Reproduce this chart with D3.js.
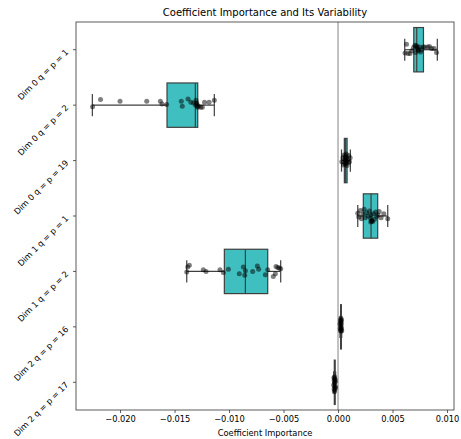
<!DOCTYPE html>
<html>
<head>
<meta charset="utf-8">
<script src="https://cdn.jsdelivr.net/npm/d3@7"></script>
<style>
  body { margin: 0; background: #fff; }
  text { font-family: "DejaVu Sans", sans-serif; fill: #000; }
</style>
</head>
<body>
<svg id="chart" width="461" height="439"></svg>
<script>
// ---- data ----
const categories = [
  "Dim 0 q = p = 1", "Dim 0 q = p = 2", "Dim 0 q = p = 19",
  "Dim 1 q = p = 1", "Dim 1 q = p = 2", "Dim 2 q = p = 16", "Dim 2 q = p = 17"
];
const q1s      = [0.00695, -0.01569, 0.00058, 0.00232, -0.01043, 0.00024, -0.00034];
const medians  = [0.00722, -0.01309, 0.00070, 0.00303, -0.00850, 0.00027, -0.00030];
const q3s      = [0.00784, -0.01287, 0.00083, 0.00364, -0.00645, 0.00030, -0.00027];
const whiskLo  = [0.00612, -0.02254, 0.00032, 0.00181, -0.01388, 0.00018, -0.00040];
const whiskHi  = [0.00911, -0.01135, 0.00113, 0.00456, -0.00526, 0.00034, -0.00022];

const points0 = [0.00615,0.00628,0.00642,0.00661,0.00676,0.00693,0.00706,0.00720,0.00729,0.00739,0.00748,0.00757,0.00766,0.00780,0.00794,0.00821,0.00839,0.00858,0.00881,0.00904,0.00712,0.00725,0.00735];
const jitter0 = [0.06,-0.10,0.07,0.07,0.02,-0.04,-0.08,-0.07,-0.02,0.02,-0.05,0.04,0,-0.05,-0.05,-0.05,-0.06,-0.02,-0.02,0.05,0.05,-0.05,0];
const points1 = [-0.02252,-0.02179,-0.02000,-0.01755,-0.01630,-0.01615,-0.01572,-0.01438,-0.01429,-0.01376,-0.01350,-0.01326,-0.01303,-0.01295,-0.01282,-0.01307,-0.01289,-0.01260,-0.01245,-0.01225,-0.01183,-0.01135,-0.01300,-0.01292];
const jitter1 = [0.03,-0.10,-0.07,-0.07,-0.07,-0.02,-0.01,-0.07,0.02,-0.11,-0.05,-0.04,-0.09,-0.03,0.02,0,0.04,0.04,0.04,-0.05,-0.05,-0.09,-0.04,0.01];
const points2 = [0.00035,0.00045,0.00050,0.00055,0.00058,0.00062,0.00065,0.00068,0.00070,0.00071,0.00073,0.00075,0.00078,0.00080,0.00083,0.00087,0.00092,0.00098,0.00105,0.00111];
const jitter2 = [0.02,-0.05,0.08,-0.10,0.03,-0.03,0.06,-0.08,0.00,-0.04,0.05,-0.12,0.01,-0.06,0.09,-0.02,0.04,-0.09,0.02,-0.05];
const points3 = [0.00181,0.00190,0.00205,0.00215,0.00228,0.00240,0.00250,0.00262,0.00275,0.00288,0.00298,0.00303,0.00310,0.00318,0.00325,0.00335,0.00345,0.00355,0.00365,0.00378,0.00395,0.00420,0.00456,0.00300,0.00308];
const jitter3 = [-0.05,0.02,-0.10,0.05,-0.03,-0.12,0.03,-0.06,0.00,-0.09,0.04,-0.02,0.08,0.10,-0.04,0.06,-0.07,0.01,-0.02,-0.08,0.03,-0.04,0.05,0.11,0.09];
const points4 = [-0.01388,-0.01379,-0.01364,-0.01236,-0.01211,-0.01083,-0.01052,-0.01006,-0.00906,-0.00869,-0.00856,-0.00850,-0.00783,-0.00740,-0.00728,-0.00667,-0.00645,-0.00594,-0.00575,-0.00569,-0.00553,-0.00539,-0.00526];
const jitter4 = [0.01,-0.08,-0.11,-0.03,0,-0.03,0.02,-0.04,0.04,-0.08,0.07,-0.01,0,-0.10,-0.04,0.06,-0.03,0.09,0.04,-0.09,-0.07,-0.06,-0.05];
const points5 = [0.00018,0.00020,0.00022,0.00023,0.00024,0.00025,0.00026,0.00027,0.00027,0.00028,0.00029,0.00030,0.00031,0.00032,0.00034];
const jitter5 = [-0.05,0.03,-0.12,0.06,-0.08,0.00,-0.15,0.08,-0.03,-0.10,0.04,-0.06,0.02,-0.13,0.07];
const points6 = [-0.00040,-0.00038,-0.00036,-0.00035,-0.00034,-0.00033,-0.00032,-0.00031,-0.00030,-0.00030,-0.00029,-0.00028,-0.00027,-0.00025,-0.00022];
const jitter6 = [0.05,-0.08,0.12,-0.03,0.17,0.02,-0.10,0.09,-0.05,0.14,0.00,-0.06,0.07,-0.02,0.10];

const xTicks = [-0.020, -0.015, -0.010, -0.005, 0.000, 0.005, 0.010];
const xDomain = [-0.02404, 0.01064];

const title = "Coefficient Importance and Its Variability";
const xLabel = "Coefficient Importance";

// ---- layout ----
const svg = d3.select("#chart");
const L = 76, R = 454, T = 22, B = 410;
const x = d3.scaleLinear().domain(xDomain).range([L, R]);
const y = d3.scaleBand().domain(categories).range([T, B]).padding(0);
const bw = y.bandwidth();
const boxH = bw * 0.8;
const capH = bw * 0.4;

const fillC = "#3fbfbf";
const edgeC = "#3f3f3f";

const allPoints = [points0, points1, points2, points3, points4, points5, points6];
const allJitter = [jitter0, jitter1, jitter2, jitter3, jitter4, jitter5, jitter6];

const boxes = categories.map((c, i) => ({
  c, q1: q1s[i], med: medians[i], q3: q3s[i], lo: whiskLo[i], hi: whiskHi[i]
}));

const g = svg.append("g");
boxes.forEach(b => {
  const cy = y(b.c) + bw / 2;
  g.append("line").attr("x1", x(b.lo)).attr("x2", x(b.q1)).attr("y1", cy).attr("y2", cy)
    .attr("stroke", edgeC).attr("stroke-width", 1.2);
  g.append("line").attr("x1", x(b.q3)).attr("x2", x(b.hi)).attr("y1", cy).attr("y2", cy)
    .attr("stroke", edgeC).attr("stroke-width", 1.2);
  [b.lo, b.hi].forEach(v => {
    g.append("line").attr("x1", x(v)).attr("x2", x(v))
      .attr("y1", cy - capH / 2).attr("y2", cy + capH / 2)
      .attr("stroke", edgeC).attr("stroke-width", 1.2);
  });
  g.append("rect").attr("x", x(b.q1)).attr("y", cy - boxH / 2)
    .attr("width", Math.max(0.5, x(b.q3) - x(b.q1))).attr("height", boxH)
    .attr("fill", fillC).attr("stroke", edgeC).attr("stroke-width", 1.2);
  g.append("line").attr("x1", x(b.med)).attr("x2", x(b.med))
    .attr("y1", cy - boxH / 2).attr("y2", cy + boxH / 2)
    .attr("stroke", edgeC).attr("stroke-width", 1.2);
});

// zero line
svg.append("line").attr("x1", x(0)).attr("x2", x(0)).attr("y1", T).attr("y2", B)
  .attr("stroke", "#999999").attr("stroke-width", 1.2);

// points
categories.forEach((c, i) => {
  const cy = y(c) + bw / 2;
  svg.append("g").selectAll("circle").data(allPoints[i]).join("circle")
    .attr("cx", d => x(d))
    .attr("cy", (d, j) => cy + allJitter[i][j] * bw)
    .attr("r", 2.5)
    .attr("fill", "rgba(0,0,0,0.5)");
});

// axes frame
svg.append("rect").attr("x", L).attr("y", T).attr("width", R - L).attr("height", B - T)
  .attr("fill", "none").attr("stroke", "#333").attr("stroke-width", 0.8);

// x axis
const xAxis = svg.append("g").attr("transform", `translate(0,${B})`)
  .call(d3.axisBottom(x).tickValues(xTicks).tickFormat(d3.format(".3f")).tickSize(3).tickPadding(3));
xAxis.select(".domain").remove();
xAxis.selectAll("line").attr("stroke", "#333").attr("stroke-width", 0.8);
xAxis.selectAll("text").attr("font-size", "8.3px").attr("font-family", "DejaVu Sans").attr("fill", "#000");

// y axis
const yAxis = svg.append("g").attr("transform", `translate(${L},0)`)
  .call(d3.axisLeft(y).tickSize(3).tickFormat(""));
yAxis.select(".domain").remove();
yAxis.selectAll("line").attr("stroke", "#333").attr("stroke-width", 0.8);
svg.append("g").selectAll("text").data(categories).join("text")
  .attr("transform", d => `translate(${L - 7},${y(d) + bw / 2 + 3}) rotate(-45)`)
  .attr("text-anchor", "end")
  .attr("font-size", "8.3px")
  .text(d => d);

// title and label
svg.append("text").attr("x", (L + R) / 2).attr("y", 16).attr("text-anchor", "middle")
  .attr("font-size", "10px").text(title);
svg.append("text").attr("x", (L + R) / 2).attr("y", 436).attr("text-anchor", "middle")
  .attr("font-size", "8.3px").text(xLabel);
</script>
</body>
</html>
